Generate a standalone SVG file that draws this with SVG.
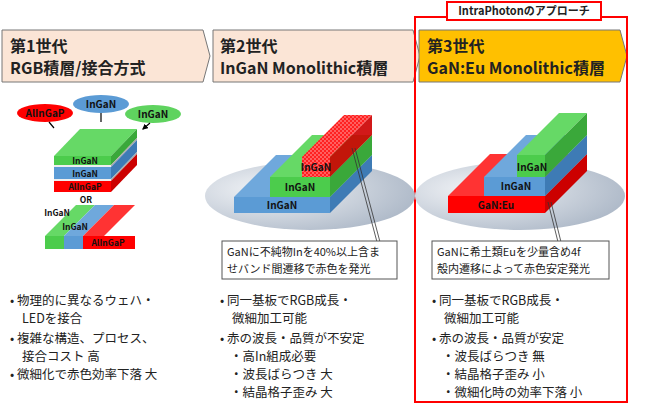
<svg xmlns="http://www.w3.org/2000/svg" width="650" height="407" viewBox="0 0 650 407">
<defs>
<radialGradient id="eg" cx="0.3" cy="0.4" r="0.8"><stop offset="0" stop-color="#f2f4f7"/><stop offset="1" stop-color="#a8b4c4"/></radialGradient>
<marker id="ah" viewBox="0 0 10 10" refX="8" refY="5" markerWidth="5" markerHeight="5" orient="auto"><path d="M0,0L10,5L0,10z" fill="#000"/></marker>
<pattern id="chk" width="4" height="4" patternUnits="userSpaceOnUse"><rect width="4" height="4" fill="#ff2020"/><rect width="2" height="2" fill="#ff6060"/><rect x="2" y="2" width="2" height="2" fill="#ff6060"/></pattern>
</defs>
<style>
text{font-family:"Noto Sans CJK JP","Liberation Sans",sans-serif;fill:#222}
.h{font-size:16px;font-weight:bold}
.l{font-size:10px;font-weight:bold;text-anchor:middle;fill:#111}
.s{font-size:8.5px;font-weight:bold;text-anchor:middle;fill:#111}
.b{font-size:12.5px}
.c{font-size:11px}
.bn{stroke:#777;stroke-width:1}
</style>
<rect width="650" height="407" fill="#fff"/>
<g id="banner1"><path class="bn" d="M2,30H203L210,56L203,82H2Z" fill="#fbe5d6"/><text class="h" x="10" y="52">第1世代</text><text class="h" x="10" y="74">RGB積層/接合方式</text></g>
<g id="banner2"><path class="bn" d="M213,30H413L420,56L413,82H213Z" fill="#fbe5d6"/><text class="h" x="220" y="52">第2世代</text><text class="h" x="220" y="74">InGaN Monolithic積層</text></g>
<g id="banner3"><path class="bn" d="M419,30H620L627,56L620,82H419Z" fill="#ffc000"/><text class="h" x="427" y="52">第3世代</text><text class="h" x="427" y="74">GaN:Eu Monolithic積層</text></g>
<g id="approach"><rect x="415" y="17" width="212" height="385" fill="none" stroke="#f00" stroke-width="2"/><rect x="447" y="2" width="154" height="18" fill="#fff" stroke="#f00" stroke-width="2"/><text x="524" y="15" font-size="11" font-weight="bold" text-anchor="middle">IntraPhotonのアプローチ</text></g>
<g id="gen1">
<ellipse cx="45" cy="113" rx="28" ry="9" fill="#f00"/><text class="l" x="45" y="117">AlInGaP</text>
<ellipse cx="101" cy="104" rx="28" ry="9" fill="#5b9bd5"/><text class="l" x="101" y="108">InGaN</text>
<ellipse cx="153" cy="114" rx="28" ry="9" fill="#5fd35f"/><text class="l" x="153" y="118">InGaN</text>
<path d="M49,122L54,128M101,113V122M150,123L143,129" stroke="#000" stroke-width="1.2" marker-end="url(#ah)"/>
<path d="M54,156L80,129H137L111,156Z" fill="#66d966"/>
<rect x="54" y="156" width="57" height="9" fill="#4ccc4c"/><path d="M111,156L137,129V138L111,165Z" fill="#3aa83a"/>
<rect x="54" y="165" width="57" height="2" fill="#eee"/><path d="M111,165L137,138V140L111,167Z" fill="#aaa"/>
<rect x="54" y="167" width="57" height="12" fill="#5b9bd5"/><path d="M111,167L137,140V152L111,179Z" fill="#3e7bb5"/>
<rect x="54" y="179" width="57" height="2" fill="#eee"/><path d="M111,179L137,152V154L111,181Z" fill="#aaa"/>
<rect x="54" y="181" width="57" height="11" fill="#f00"/><path d="M111,181L137,154V165L111,192Z" fill="#c00"/>
<text class="s" x="85" y="164">InGaN</text><text class="s" x="85" y="177">InGaN</text><text class="s" x="85" y="190">AlInGaP</text>
<text class="s" x="86" y="203">OR</text>
<path d="M45,236L76,205H95L64,236Z" fill="#66d966"/><path d="M64,236L95,205H114L83,236Z" fill="#6fa8dc"/><path d="M83,236L114,205H135L104,236Z" fill="#f33"/>
<rect x="45" y="236" width="19" height="13" fill="#4ccc4c"/><rect x="64" y="236" width="19" height="13" fill="#5b9bd5"/><rect x="83" y="236" width="52" height="13" fill="#f00"/>
<text class="s" x="57" y="216">InGaN</text><text class="s" x="75" y="230">InGaN</text><text class="s" x="108" y="246">AlInGaP</text>
</g>
<g id="gen2">
<ellipse cx="310" cy="196" rx="105" ry="34" fill="url(#eg)"/>
<path d="M234,197L276,155H372L330,197Z" fill="#6fa8dc"/><rect x="234" y="197" width="96" height="16" fill="#5b9bd5"/><path d="M330,197L372,155V171L330,213Z" fill="#3e7bb5"/>
<path d="M270,177L312,135H372L330,177Z" fill="#66d966"/><rect x="270" y="177" width="60" height="20" fill="#4ccc4c"/><path d="M330,177L372,135V155L330,197Z" fill="#3aa83a"/>
<path d="M302,157L344,115H372L330,157Z" fill="url(#chk)"/><rect x="302" y="157" width="28" height="20" fill="url(#chk)"/><path d="M330,157L372,115V135L330,177Z" fill="#c00" opacity="0.9"/>
<text class="l" x="316" y="171">InGaN</text><text class="l" x="300" y="191">InGaN</text><text class="l" x="282" y="209">InGaN</text>
<path d="M377,242L352,148M380,242L355,148" stroke="#333" stroke-width="0.8"/>
<rect x="222" y="241" width="175" height="38" fill="#fff" stroke="#555"/>
<text class="c" x="227" y="256">GaNに不純物Inを40%以上含ま</text><text class="c" x="227" y="273">せバンド間遷移で赤色を発光</text>
</g>
<g id="gen3">
<ellipse cx="520" cy="196" rx="105" ry="34" fill="url(#eg)"/>
<path d="M448,196L490,154H587L545,196Z" fill="#f33"/><rect x="448" y="196" width="97" height="17" fill="#f00"/><path d="M545,196L587,154V171L545,213Z" fill="#c00"/>
<path d="M484,177L526,135H587L545,177Z" fill="#6fa8dc"/><rect x="484" y="177" width="61" height="19" fill="#5b9bd5"/><path d="M545,177L587,135V154L545,196Z" fill="#3e7bb5"/>
<path d="M517,155L559,113H587L545,155Z" fill="#66d966"/><rect x="517" y="155" width="28" height="22" fill="#4ccc4c"/><path d="M545,155L587,113V135L545,177Z" fill="#3aa83a"/>
<text class="l" x="532" y="171">InGaN</text><text class="l" x="516" y="190">InGaN</text><text class="l" x="496" y="209">GaN:Eu</text>
<path d="M558,242L548,202M561,242L551,202" stroke="#333" stroke-width="0.8"/>
<rect x="432" y="241" width="177" height="38" fill="#fff" stroke="#555"/>
<text class="c" x="437" y="256">GaNに希土類Euを少量含め4f</text><text class="c" x="437" y="273">殻内遷移によって赤色安定発光</text>
</g>
<g id="bullets">
<text class="b" x="10" y="305">• 物理的に異なるウェハ・</text><text class="b" x="22" y="323">LEDを接合</text>
<text class="b" x="10" y="343">• 複雑な構造、プロセス、</text><text class="b" x="22" y="361">接合コスト 高</text>
<text class="b" x="10" y="379">• 微細化で赤色効率下落 大</text>
<text class="b" x="220" y="305">• 同一基板でRGB成長・</text><text class="b" x="232" y="323">微細加工可能</text>
<text class="b" x="220" y="343">• 赤の波長・品質が不安定</text>
<text class="b" x="230" y="361">・高In組成必要</text><text class="b" x="230" y="379">・波長ばらつき 大</text><text class="b" x="230" y="397">・結晶格子歪み 大</text>
<text class="b" x="432" y="305">• 同一基板でRGB成長・</text><text class="b" x="444" y="323">微細加工可能</text>
<text class="b" x="432" y="343">• 赤の波長・品質が安定</text>
<text class="b" x="442" y="361">・波長ばらつき 無</text><text class="b" x="442" y="379">・結晶格子歪み 小</text><text class="b" x="442" y="397">・微細化時の効率下落 小</text>
</g>
</svg>
